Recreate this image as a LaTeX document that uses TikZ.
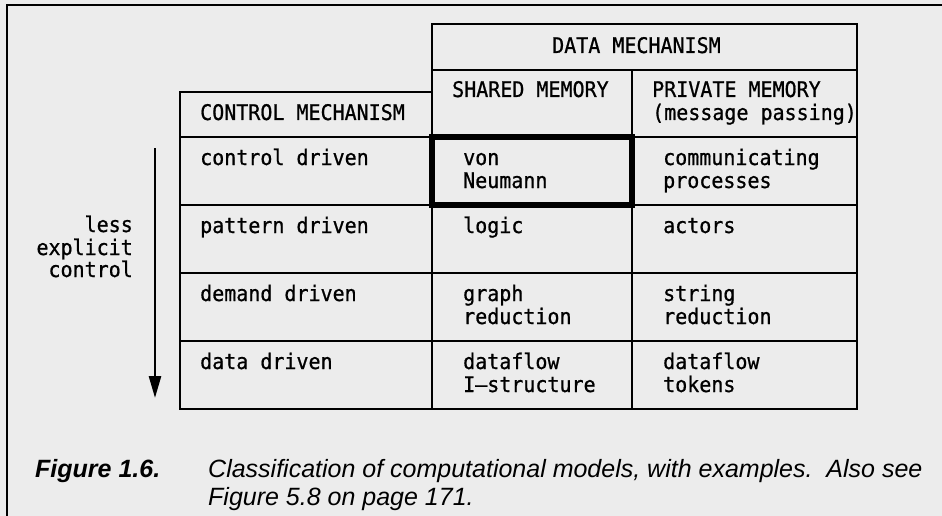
\documentclass[tikz,border=0pt]{standalone}
\usepackage{fontspec}
\newfontfamily\tabfont[FakeStretch=0.93,FakeBold=0.8]{DejaVu Sans Mono}
\newfontfamily\capfont{Liberation Sans}
\usetikzlibrary{arrows.meta}
\definecolor{paper}{RGB}{236,236,236}
\begin{document}
\begin{tikzpicture}[x=1pt,y=-1pt,
  rule/.style={line width=2.8pt, draw=black},
  heavy/.style={line width=5.5pt, draw=black},
  txt/.style={font=\tabfont\fontsize{21.5}{24}\selectfont, inner sep=0pt, anchor=base west},
  rtxt/.style={txt, anchor=base east},
  captxt/.style={font=\capfont\itshape\fontsize{25}{28}\selectfont, inner sep=0pt, anchor=base west},
  capbold/.style={font=\capfont\bfseries\itshape\fontsize{25}{28}\selectfont, inner sep=0pt, anchor=base west}]
\fill[paper] (0,0) rectangle (942,516);
\useasboundingbox (0,0) rectangle (942,516);
% page frame
\draw[rule] (7,516) -- (7,5) -- (942,5);
% table
\draw[rule] (180,409) -- (180,92) -- (432,92) -- (432,24) -- (857,24) -- (857,409) -- cycle;
\draw[rule] (432,70) -- (857,70);
\draw[rule] (432,92) -- (432,409);
\draw[rule] (632,70) -- (632,409);
\foreach \yy in {137,205,273,341} \draw[rule] (180,\yy) -- (857,\yy);
\draw[heavy] (432,137) rectangle (632,205);
% headers
\node[txt] (hdata) at (552,53) {DATA MECHANISM};
\node[txt] (hshared) at (452,97) {SHARED MEMORY};
\node[txt] (hpriv) at (652,97) {PRIVATE MEMORY};
\node[txt] (hpriv2) at (652,120) {(message passing)};
\node[txt] (hctrl) at (200,120) {CONTROL MECHANISM};
% rows
\node[txt] (r1a) at (200,165) {control driven};
\node[txt] (r1b) at (463,165) {von};
\node[txt] (r1b2) at (463,188) {Neumann};
\node[txt] (r1c) at (663,165) {communicating};
\node[txt] (r1c2) at (663,188) {processes};
\node[txt] (r2a) at (200,233) {pattern driven};
\node[txt] (r2b) at (463,233) {logic};
\node[txt] (r2c) at (663,233) {actors};
\node[txt] (r3a) at (200,301) {demand driven};
\node[txt] (r3b) at (463,301) {graph};
\node[txt] (r3b2) at (463,324) {reduction};
\node[txt] (r3c) at (663,301) {string};
\node[txt] (r3c2) at (663,324) {reduction};
\node[txt] (r4a) at (200,369) {data driven};
\node[txt] (r4b) at (463,369) {dataflow};
\node[txt] (r4b2) at (463,392) {I–structure};
\node[txt] (r4c) at (663,369) {dataflow};
\node[txt] (r4c2) at (663,392) {tokens};
% arrow
\coordinate (atop) at (155,148);
\coordinate (abot) at (155,398);
\draw[rule, line width=2.6pt, -{Triangle[width=12pt,length=22pt]}] (atop) -- (abot);
\node[rtxt] (l1) at (133,232) {less};
\node[rtxt] (l2) at (133,255) {explicit};
\node[rtxt] (l3) at (133,277) {control};
% caption
\node[capbold] (cfig) at (35,477) {Figure 1.6.};
\node[captxt] (ctext) at (208,477) {Classification of computational models, with examples.\ \ Also see};
\node[captxt] (ctext2) at (208,505) {Figure 5.8 on page 171.};
\end{tikzpicture}
\end{document}
